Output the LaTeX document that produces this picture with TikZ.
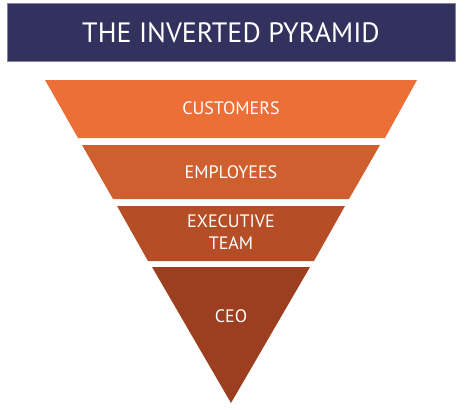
\documentclass[tikz,border=0pt]{standalone}
\usepackage{fontspec}
\setmainfont{PT Sans}
\definecolor{titleblue}{HTML}{33325F}
\definecolor{bandA}{HTML}{EC6F37}
\definecolor{bandB}{HTML}{D05F30}
\definecolor{bandC}{HTML}{B54E27}
\definecolor{bandD}{HTML}{9C3F20}
\begin{document}
\begin{tikzpicture}[x=1pt,y=-1pt,every node/.style={font=\fontsize{18}{22}\selectfont,text=white,align=center},line width=.7pt]
\useasboundingbox (0,0) rectangle (467,410);
\fill[titleblue,draw=titleblue!60] (7,3) rectangle (455,61);
\node[font=\fontsize{28}{34}\selectfont] (title) at (231,33) {THE INVERTED PYRAMID};
\fill[bandA] (45,80)--(417,80)--(385,138)--(78,138)--cycle;
\node (customers) at (231,108) {CUSTOMERS};
\fill[bandB] (82,145)--(380,145)--(349,199)--(113,199)--cycle;
\node (employees) at (231,172) {EMPLOYEES};
\fill[bandC] (117,206)--(345,206)--(314,261)--(148,261)--cycle;
\node (executive) at (231,232) {EXECUTIVE\\TEAM};
\fill[bandD] (152,267)--(310,267)--(231,403)--cycle;
\node (ceo) at (231,316) {CEO};
\end{tikzpicture}
\end{document}
